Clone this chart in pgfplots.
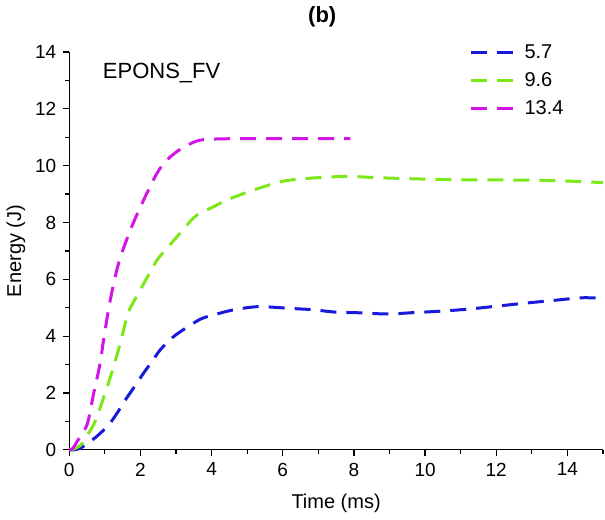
\documentclass[border=0pt]{standalone}
\usepackage{pgfplots}
\pgfplotsset{compat=1.18}
\usepackage{fontspec}
\setmainfont{Liberation Sans}
\definecolor{cblue}{RGB}{25,25,220}
\definecolor{cgreen}{RGB}{125,232,25}
\definecolor{cmag}{RGB}{210,20,230}
\begin{document}
\begin{tikzpicture}
\begin{axis}[
  scale only axis, width=267pt, height=199pt,
  xmin=0, xmax=15, ymin=0, ymax=14,
  axis x line*=bottom, axis y line*=left,
  axis line style={line width=0.6pt},
  xtick={0,2,...,14}, ytick={0,2,...,14},
  minor xtick={1,3,...,15}, minor ytick={1,3,...,13},
  tick align=outside,
  major tick length=3pt, minor tick length=2pt,
  every tick/.style={black, line width=0.6pt},
  /pgf/number format/assume math mode=true,
  tick label style={font=\fontsize{9.5}{11}\selectfont},
  xlabel={Time (ms)}, ylabel={Energy (J)},
  label style={font=\fontsize{10}{12}\selectfont},
  xlabel style={yshift=-2pt},
  ylabel style={yshift=-2pt},
  legend style={at={(rel axis cs:0.738,1.04)}, anchor=north west, draw=none, fill=none,
    font=\fontsize{10}{12}\selectfont, row sep=1.5pt},
  legend cell align=left,
  legend image code/.code={\draw[#1, dash pattern=on 6.5pt off 6.5pt] (0pt,0pt) -- (20pt,0pt);
     \path (0pt,0pt) -- (24pt,0pt);},
  clip=false,
]
\addplot[cblue, line width=1.5pt, dash pattern=on 8pt off 5pt, smooth] coordinates {
(0,0) (0.12,0) (0.3,0.05) (0.5,0.21) (0.8,0.5) (1.11,0.88) (1.35,1.3)
(1.58,1.76) (1.85,2.25) (2.09,2.7) (2.35,3.15) (2.56,3.52) (2.9,3.95) (3.27,4.28)
(3.69,4.6) (4.06,4.75) (4.63,4.93) (5.2,5.03) (5.57,5.03) (6.3,4.97) (6.87,4.93) (7.44,4.85)
(8.2,4.82) (8.95,4.78) (9.7,4.83) (10.45,4.88) (11.2,4.95) (12.05,5.06) (12.8,5.16)
(13.55,5.25) (14.4,5.35) (15,5.33)};
\addlegendentry{5.7}
\addplot[cgreen, line width=1.5pt, dash pattern=on 8pt off 5pt, smooth] coordinates {
(0,0) (0.1,0.02) (0.31,0.15) (0.5,0.5) (0.73,1.0) (1.01,2.0) (1.25,2.94)
(1.46,3.87) (1.65,4.8) (1.85,5.3) (2.05,5.75) (2.25,6.2) (2.47,6.68) (2.75,7.1) (3.03,7.5) (3.3,7.9) (3.6,8.27)
(4.05,8.55) (4.45,8.8) (5.2,9.15) (6.0,9.45) (6.7,9.55) (7.3,9.6) (7.9,9.62) (8.6,9.58)
(9.3,9.55) (10.2,9.52) (11.0,9.5) (12.0,9.5) (13.3,9.48) (14.2,9.45) (15,9.4)};
\addlegendentry{9.6}
\addplot[cmag, line width=1.5pt, dash pattern=on 8pt off 5pt, smooth] coordinates {
(0,0) (0.1,0.05) (0.22,0.29) (0.5,0.88) (0.69,2.0) (0.86,2.99) (0.97,3.9) (1.1,4.9)
(1.24,5.8) (1.42,6.7) (1.72,7.74) (2.05,8.68) (2.47,9.74) (2.75,10.2) (3.03,10.5)
(3.27,10.68) (3.69,10.9) (4.6,10.95) (6,10.95) (7.9,10.95)};
\addlegendentry{13.4}
\node[anchor=west, font=\fontsize{11}{13}\selectfont] at (axis cs:0.75,13.26) {EPONS\_FV};
\node[font=\bfseries\fontsize{11}{13}\selectfont] at (rel axis cs:0.474,1) [yshift=17.5pt] {(b)};
\end{axis}
\useasboundingbox ([xshift=-34.5pt,yshift=-35pt]current axis.south west) rectangle ([xshift=1pt,yshift=26pt]current axis.north east);
\end{tikzpicture}
\end{document}
